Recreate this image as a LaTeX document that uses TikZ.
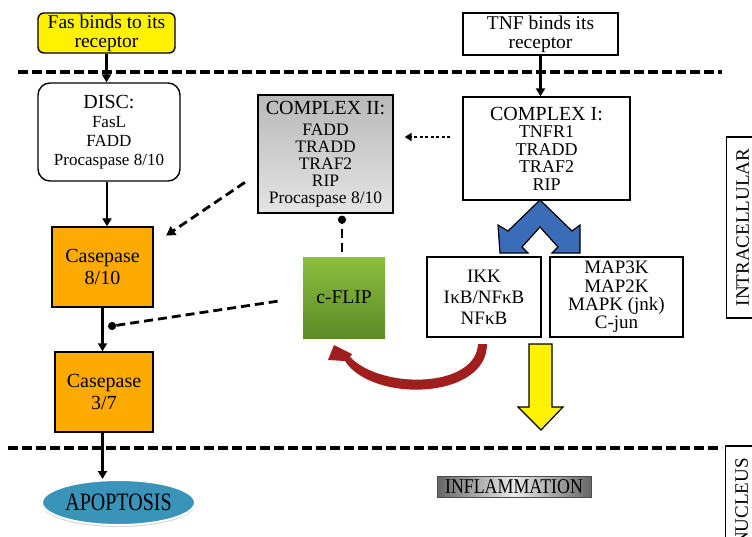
\documentclass[tikz,border=0pt]{standalone}
\usepackage{fontspec}
\usepackage{graphicx}
\setmainfont{Liberation Serif}
\usetikzlibrary{arrows.meta,shapes.geometric,calc,shadows}
\newcommand\myfs[2]{\fontsize{#1}{#2}\selectfont}
\definecolor{orangebox}{RGB}{255,170,0}
\definecolor{chevblue}{RGB}{58,108,184}
\definecolor{apopblue}{RGB}{58,148,186}
\definecolor{redarrow}{RGB}{160,30,30}
\definecolor{flipTop}{RGB}{140,190,62}
\definecolor{flipBot}{RGB}{92,138,38}
\definecolor{grayTop}{RGB}{185,185,185}
\definecolor{grayBot}{RGB}{228,228,228}
\tikzset{
  box/.style={draw=black, line width=1.4pt, align=center, inner sep=0pt},
  arr/.style={line width=2.2pt, -{Triangle[length=8pt,width=9pt]}},
  sep/.style={line width=3.2pt, dash pattern=on 10pt off 4pt},
  dasharr/.style={line width=2.8pt, dash pattern=on 9pt off 5pt, -{Triangle[length=9pt,width=10pt]}},
  dotarr/.style={line width=2.8pt, dash pattern=on 3pt off 2.5pt, -{Triangle[length=7pt,width=8pt]}},
  inhib/.style={line width=2.8pt, dash pattern=on 9pt off 5pt, -{Circle[length=8pt]}},
  sidelabel/.style={draw=black, line width=1.4pt, rotate=90, anchor=north, inner sep=0pt, font=\myfs{19}{19}},
}
\begin{document}
\begin{tikzpicture}[x=1pt,y=-1pt]
\useasboundingbox (0,0) rectangle (752,536);

% separators
\draw[sep] (18,72) -- (722,72);
\draw[sep] (8,448) -- (722,448);

% nodes
\node[box, rounded corners=6pt, fill=yellow, minimum width=137pt, minimum height=40pt, font=\myfs{19.5}{19}] (fas) at (106.5,33) {Fas binds to its\\receptor};
\node[box, minimum width=155pt, minimum height=42pt, font=\myfs{19.5}{19}] (tnf) at (540.5,34) {TNF binds its\\receptor};
\node[box, rounded corners=12pt, minimum width=142pt, minimum height=98pt, font=\myfs{17}{19}] (disc) at (109,132) {{\myfs{20}{19}DISC:}\\FasL\\FADD\\Procaspase 8/10};
\node[box, minimum width=167pt, minimum height=103pt, font=\myfs{18}{17.5}] (c1) at (546.5,148.5) {{\myfs{20}{17.5}COMPLEX I:}\\TNFR1\\TRADD\\TRAF2\\RIP};
\node[box, top color=grayTop, bottom color=grayBot, minimum width=135pt, minimum height=118pt, font=\myfs{17.5}{17}] (c2) at (325.5,154) {{\myfs{20}{17}COMPLEX II:}\\[4pt]FADD\\TRADD\\TRAF2\\RIP\\Procaspase 8/10};
\node[box, fill=orangebox, minimum width=101pt, minimum height=80pt, font=\myfs{20}{22}] (c810) at (102.5,267) {Casepase\\8/10};
\node[box, draw=none, top color=flipTop, bottom color=flipBot, minimum width=82pt, minimum height=81pt, font=\myfs{19.5}{20}] (cflip) at (344,297.5) {c-FLIP};
\node[box, fill=orangebox, minimum width=98pt, minimum height=80pt, font=\myfs{20}{22}] (c37) at (104,392) {Casepase\\3/7};
\node[box, minimum width=114pt, minimum height=80pt, font=\myfs{19}{21}] (ikk) at (484,297) {IKK\\I\kern0.3pt κB/NFκB\\NFκB};
\node[box, minimum width=133pt, minimum height=80pt, font=\myfs{19}{18.3}] (map) at (616.5,297) {MAP3K\\MAP2K\\MAPK (jnk)\\C-jun};
\node[ellipse, draw=white, line width=2pt, fill=apopblue, minimum width=153pt, minimum height=45pt, inner sep=0pt,
      drop shadow={opacity=0.35, shadow xshift=0pt, shadow yshift=-2pt}] (apop) at (118.5,502.5) {\scalebox{0.8}[1]{\myfs{25}{25}APOPTOSIS}};
\node[draw=black!70, line width=1pt, left color=black!60, right color=black!60, middle color=black!8, minimum width=154pt, minimum height=21pt, inner sep=0pt] (infl) at (514,486.5) {\scalebox{0.85}[1]{\myfs{21}{21}INFLAMMATION}};
\node[sidelabel, minimum width=181pt, minimum height=32pt] (intra) at (726,227.5) {INTRACELLULAR};
\node[sidelabel, minimum width=112pt, minimum height=32pt] (nuc) at (725,502) {NUCLEUS};

% connectors
\draw[arr] (fas.south) -- (fas.south |- disc.north);
\draw[arr] (tnf.south) -- (tnf.south |- c1.north);
\draw[arr] ([xshift=-2pt]disc.south) -- ([xshift=-2pt]disc.south |- c810.north);
\draw[arr] (c810.south) -- (c810.south |- c37.north);
\draw[arr] (c37.south -| c810.south) -- (c810.south |- apop.north);
\draw[dotarr, shorten <=12pt, shorten >=11pt] ([yshift=11.5pt]c1.west) -- ([yshift=11.5pt]c1.west -| c2.east);
\draw[dasharr, shorten <=15pt, shorten >=15pt] ([yshift=-20pt]c2.west) -- ([yshift=23pt]c810.east);
\draw[inhib, shorten <=4pt, shorten >=2pt] (cflip.north -| 342,0) -- (c2.south -| 342,0);
\coordinate (inh) at ($(c810.south)!0.45!(c37.north)$);
\draw[inhib, shorten <=25pt, shorten >=5pt] (cflip.west) -- (inh);

% blue double chevron (COMPLEX I -> IKK / MAP)
\draw[fill=chevblue, line width=1.2pt, line join=miter]
  (540,200) -- (572,231) -- (580,225) -- (580,253) -- (552,253) -- (558,247) -- (540,227)
  -- (522,247) -- (528,253) -- (500,253) -- (498,225) -- (508,231) -- cycle;

% yellow block arrow
\draw[fill=yellow, line width=1.2pt, line join=miter]
  (529,344) -- (552,344) -- (552,407) -- (563,407) -- (541,430) -- (518,407) -- (529,407) -- cycle;

% red curved arrow (IKK -> c-FLIP)
\fill[redarrow] (487,344) .. controls (487,400) and (372,403) .. (345,361)
  -- (328,360) -- (334,345) -- (352,354) -- (350,357)
  .. controls (382,390) and (476,388) .. (478,344) -- cycle;
\end{tikzpicture}
\end{document}
